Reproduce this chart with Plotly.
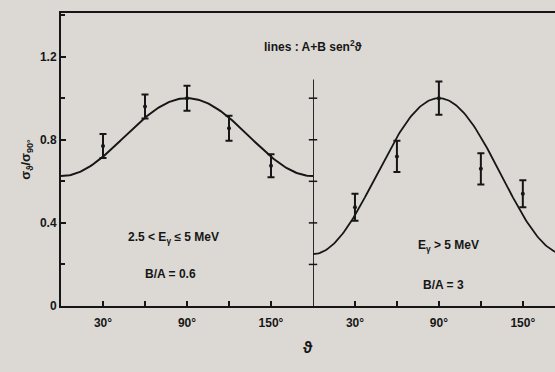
import numpy as np
import plotly.graph_objects as go

# ---- data ----
angles = [30, 60, 90, 120, 150]
low_E_vals = [0.77, 0.96, 1.00, 0.855, 0.675]
low_E_err = [0.058, 0.058, 0.06, 0.06, 0.055]
high_E_vals = [0.475, 0.72, 1.00, 0.66, 0.54]
high_E_err = [0.065, 0.075, 0.08, 0.075, 0.065]
# fitted lines A + B sen^2(theta), normalised to 1 at 90 deg
ratio_low = 0.6
ratio_high = 3.0
xtick_vals = [30, 90, 150]
xtick_text = ["30°", "90°", "150°"]
ytick_vals = [0, 0.4, 0.8, 1.2]
ytick_text = ["0", "0.4", "0.8", "1.2"]
divider_ticks = [0.2, 0.4, 0.6, 0.8, 1.0]

INK = "#161616"
BG = "#dcd9d4"
FAM = "Liberation Sans, Arial, sans-serif"
BOLD = dict(family=FAM, size=12, color=INK, weight="bold")
ANN = dict(family=FAM, size=12, color=INK, weight="bold")


def fit_curve(ratio, theta_deg):
    th = np.radians(theta_deg)
    return (1 + ratio * np.sin(th) ** 2) / (1 + ratio)


th_left = np.linspace(0, 180, 181)
th_right = np.linspace(0, 175, 176)

fig = go.Figure()
fig.add_trace(go.Scatter(x=th_left, y=fit_curve(ratio_low, th_left), mode="lines",
                         line=dict(color=INK, width=2), xaxis="x", yaxis="y", showlegend=False))
fig.add_trace(go.Scatter(x=th_right, y=fit_curve(ratio_high, th_right), mode="lines",
                         line=dict(color=INK, width=1.8), xaxis="x2", yaxis="y", showlegend=False))
fig.add_trace(go.Scatter(x=angles, y=low_E_vals, mode="markers",
                         marker=dict(color=INK, size=4),
                         error_y=dict(type="data", array=low_E_err, color=INK, thickness=2, width=3.5),
                         xaxis="x", yaxis="y", showlegend=False))
fig.add_trace(go.Scatter(x=angles, y=high_E_vals, mode="markers",
                         marker=dict(color=INK, size=4),
                         error_y=dict(type="data", array=high_E_err, color=INK, thickness=2, width=3.5),
                         xaxis="x2", yaxis="y", showlegend=False))
# tick marks on the dividing axis
fig.add_trace(go.Scatter(x=[0] * len(divider_ticks), y=divider_ticks, mode="markers",
                         marker=dict(symbol="line-ew-open", size=6, color=INK,
                                     line=dict(color=INK, width=1.5)),
                         xaxis="x2", yaxis="y", showlegend=False, cliponaxis=False,
                         hoverinfo="skip"))

split = (313 - 61) / 494

axis_common = dict(showline=True, linecolor=INK, linewidth=2, ticks="inside", ticklen=5,
                   tickwidth=1.5, tickcolor=INK, mirror=True, showgrid=False, zeroline=False,
                   tickvals=xtick_vals, ticktext=xtick_text, automargin=False, tickfont=BOLD,
                   ticklabelstandoff=5,
                   minor=dict(dtick=30, tick0=0, ticks="inside", ticklen=5, tickwidth=1.5,
                              tickcolor=INK))

fig.update_layout(
    width=555, height=372,
    margin=dict(l=61, r=0, t=13, b=66),
    paper_bgcolor=BG, plot_bgcolor=BG,
    font=dict(family=FAM, size=12, color=INK),
    xaxis=dict(domain=[0, split], range=[0, 180], anchor="y", **axis_common),
    xaxis2=dict(domain=[split, 1], range=[0, 173], anchor="y", **axis_common),
    yaxis=dict(range=[0, 1.41], showline=True, linecolor=INK, linewidth=2, ticks="inside",
               ticklen=5, tickwidth=1.5, tickcolor=INK, showgrid=False, zeroline=False,
               tickvals=ytick_vals, ticktext=ytick_text, automargin=False, tickfont=BOLD,
               minor=dict(dtick=0.2, tick0=0, ticks="inside", ticklen=4, tickcolor=INK),
               title=dict(text="σ<sub>ϑ</sub>/σ<sub>90°</sub>",
                          font=dict(family=FAM, size=13, color=INK, weight="bold"), standoff=6)),
    shapes=[dict(type="line", xref="x2", yref="y", x0=0, x1=0, y0=0, y1=1.09,
                 line=dict(color=INK, width=1.8))],
    annotations=[
        dict(text="lines : A+B sen<sup>2</sup>ϑ", xref="paper", yref="paper", x=0.51, y=0.92,
             showarrow=False, font=ANN),
        dict(text="2.5 &lt; E<sub>γ</sub> ≤ 5 MeV", xref="x", yref="y", x=80, y=0.325,
             showarrow=False, font=ANN),
        dict(text="B/A = 0.6", xref="x", yref="y", x=78, y=0.155,
             showarrow=False, font=ANN),
        dict(text="E<sub>γ</sub> &gt; 5 MeV", xref="x2", yref="y", x=97, y=0.29,
             showarrow=False, font=ANN),
        dict(text="B/A = 3", xref="x2", yref="y", x=93, y=0.10,
             showarrow=False, font=ANN),
        dict(text="ϑ", xref="paper", yref="paper", x=0.50, y=-0.143, yanchor="middle",
             showarrow=False, font=dict(family=FAM, size=16, color=INK, weight="bold")),
    ],
)

fig.write_html("out.html", config={"displayModeBar": False},
               post_script="document.body.style.margin='0';document.body.style.background='#dcd9d4';")
